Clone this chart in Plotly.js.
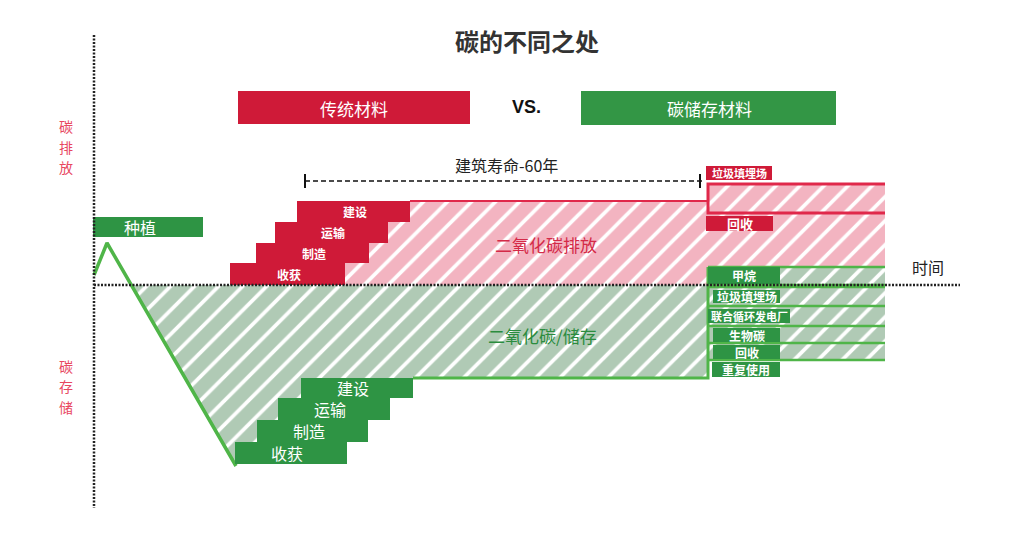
<!DOCTYPE html>
<html><head><meta charset="utf-8">
<script src="https://cdn.plot.ly/plotly-3.0.1.min.js"></script>
<style>html,body{margin:0;padding:0;background:#fff}#chart{width:1013px;height:534px}</style>
</head><body><div id="chart"></div>
<script>
// ---------------- DATA (chart units: x = time, y = carbon; + emitted, - stored) ----------------
const stages = ['收获', '制造', '运输', '建设'];
// Traditional material: emission stairs
const emitStart = [136, 162, 181, 203];
const emitEnd   = [251, 275, 294, 316];
const emitLevel = [0, 22, 42, 63, 84];
// Carbon-storage material: storage stairs
const storeStart = [141, 163, 184, 207];
const storeEnd   = [253, 274, 296, 319];
const storeLevel = [-179, -157, -135, -113, -93];
// Growth / planting curve
const growX = [0, 13, 142];
const growY = [10, 42, -181];
const plantLabel = '种植';
// Building life span
const lifeStart = 211, lifeEnd = 608;
const lifeLabel = '建筑寿命-60年';
// End of life
const eolTime = 614, horizon = 791;
const emitEolLabels = ['垃圾填埋场', '回收'];
const emitEolLevels = [101, 72];            // landfill top, recycle split
const storeEolLabels = ['甲烷', '垃圾填埋场', '联合循环发电厂', '生物碳', '回收', '重复使用'];
const storeEolTop    = [18, -2, -22, -42, -59, -77];
const storeEolBottom = [0, -21, -41, -58, -75, -93];
const titleText = '碳的不同之处';
const headers = ['传统材料', 'VS.', '碳储存材料'];
const axisLabels = ['碳排放', '碳存储', '时间'];
const areaLabels = ['二氧化碳排放', '二氧化碳/储存'];

// ---------------- STYLE ----------------
const RED = '#cf1a38', RED_LINE = '#e0284a', PINK = '#f3b4c1';
const GREEN = '#2e9444', GREEN_LINE = '#4fb548', GREEN_HATCH = '#b0cab5';
const CJK = '"Noto Sans CJK SC", "Noto Sans", sans-serif';
const X = px => px / 1013, Y = py => 1 - py / 534;

const traces = [];
const shapes = [];
const annotations = [];
function ann(o) { annotations.push(Object.assign({showarrow: false, xanchor: 'center', yanchor: 'middle'}, o)); }

// Pink emission hatched area
const pinkX = [emitEnd[0]], pinkY = [emitLevel[0]];
for (let i = 0; i < stages.length; i++) {
  pinkX.push(emitEnd[i], emitEnd[i]); pinkY.push(emitLevel[i], emitLevel[i + 1]);
}
pinkX.push(eolTime, eolTime, horizon, horizon);
pinkY.push(emitLevel[4], emitEolLevels[0], emitEolLevels[0], 0);
traces.push({x: pinkX, y: pinkY, type: 'scatter', mode: 'lines', fill: 'toself',
  line: {width: 0, color: 'rgba(0,0,0,0)'}, fillcolor: PINK,
  fillpattern: {shape: '/', bgcolor: PINK, fgcolor: '#ffffff', size: 17, solidity: 0.22},
  hoverinfo: 'skip'});

// Green storage hatched area
const slope = (growY[2] - growY[1]) / (growX[2] - growX[1]);
const x0 = growX[1] + (0 - growY[1]) / slope;
const gX = [x0, eolTime, eolTime], gY = [0, 0, storeLevel[4]];
for (let i = stages.length - 1; i >= 0; i--) {
  gX.push(storeStart[i], storeStart[i]); gY.push(storeLevel[i + 1], storeLevel[i]);
}
gX.push(growX[2]); gY.push(growY[2]);
traces.push({x: gX, y: gY, type: 'scatter', mode: 'lines', fill: 'toself',
  line: {width: 0, color: 'rgba(0,0,0,0)'}, fillcolor: GREEN_HATCH,
  fillpattern: {shape: '/', bgcolor: GREEN_HATCH, fgcolor: '#ffffff', size: 17, solidity: 0.22},
  hoverinfo: 'skip'});

// End-of-life storage strips (hatched)
for (let i = 0; i < storeEolLabels.length - 1; i++) {
  traces.push({x: [eolTime, horizon, horizon, eolTime], y: [storeEolTop[i], storeEolTop[i], storeEolBottom[i], storeEolBottom[i]],
    type: 'scatter', mode: 'lines', fill: 'toself', line: {width: 0, color: 'rgba(0,0,0,0)'}, fillcolor: GREEN_HATCH,
    fillpattern: {shape: '/', bgcolor: GREEN_HATCH, fgcolor: '#ffffff', size: 17, solidity: 0.22}, hoverinfo: 'skip'});
}

// Emission outline lines
traces.push({x: [emitEnd[3], eolTime], y: [emitLevel[4], emitLevel[4]], type: 'scatter', mode: 'lines',
  line: {color: RED_LINE, width: 2}, hoverinfo: 'skip'});
traces.push({x: [horizon, eolTime, eolTime, horizon], y: [emitEolLevels[0], emitEolLevels[0], emitEolLevels[1], emitEolLevels[1]],
  type: 'scatter', mode: 'lines', line: {color: RED_LINE, width: 3}, hoverinfo: 'skip'});

// Growth line and storage outline
traces.push({x: growX, y: growY, type: 'scatter', mode: 'lines', line: {color: GREEN_LINE, width: 3.5}, hoverinfo: 'skip'});
traces.push({x: [storeEnd[3], eolTime, eolTime], y: [storeLevel[4], storeLevel[4], storeEolTop[0]], type: 'scatter', mode: 'lines',
  line: {color: GREEN_LINE, width: 3}, hoverinfo: 'skip'});
const stripLines = [storeEolTop[0]].concat(storeEolBottom.slice(0, 5)).concat([storeEolTop[1]]);
stripLines.forEach(v => traces.push({x: [eolTime, horizon], y: [v, v], type: 'scatter', mode: 'lines',
  line: {color: GREEN_LINE, width: 2.5}, hoverinfo: 'skip'}));

// Stair blocks
for (let i = 0; i < stages.length; i++) {
  shapes.push({type: 'rect', x0: emitStart[i], x1: emitEnd[i], y0: emitLevel[i], y1: emitLevel[i + 1],
    fillcolor: RED, line: {width: 0}});
  ann({x: (emitStart[i] + emitEnd[i]) / 2 + 1, y: (emitLevel[i] + emitLevel[i + 1]) / 2, text: '<b>' + stages[i] + '</b>',
    font: {family: CJK, size: 12, color: '#fff'}});
  shapes.push({type: 'rect', x0: storeStart[i], x1: storeEnd[i], y0: storeLevel[i], y1: storeLevel[i + 1],
    fillcolor: GREEN, line: {width: 0}});
  ann({x: (storeStart[i] + storeEnd[i]) / 2 - 4, y: (storeLevel[i] + storeLevel[i + 1]) / 2, text: stages[i],
    font: {family: CJK, size: 16, color: '#fff'}});
}

// Planting label box
shapes.push({type: 'rect', x0: -1, x1: 109, y0: 48, y1: 68, fillcolor: GREEN, line: {width: 0}});
ann({x: 46, y: 58, text: plantLabel, font: {family: CJK, size: 16, color: '#fff'}});

// Emission end-of-life label boxes
const emitBox = [[612, 678, 105, 119], [612, 679, 54, 69]];
emitEolLabels.forEach((t, i) => {
  const b = emitBox[i];
  shapes.push({type: 'rect', x0: b[0], x1: b[1], y0: b[2], y1: b[3], fillcolor: RED, line: {width: 0}});
  ann({x: (b[0] + b[1]) / 2, y: (b[2] + b[3]) / 2, text: '<b>' + t + '</b>',
    font: {family: CJK, size: i === 0 ? 11 : 13, color: '#fff'}});
});

// Storage end-of-life label boxes
const storeBox = [[614, 686], [619, 686], [614, 696], [619, 686], [619, 686], [618, 686]];
const storeBoxY = [[1, 18], [-18, -5], [-38, -24], [-57, -43], [-74, -60], [-92, -77]];
storeEolLabels.forEach((t, i) => {
  const b = storeBox[i], by = storeBoxY[i];
  shapes.push({type: 'rect', x0: b[0], x1: b[1], y0: by[0], y1: by[1], fillcolor: GREEN, line: {width: 0}});
  ann({x: (b[0] + b[1]) / 2, y: (by[0] + by[1]) / 2, text: '<b>' + t + '</b>',
    font: {family: CJK, size: i === 2 ? 11 : 12, color: '#fff'}});
});

// Axes (dotted)
shapes.push({type: 'line', x0: 0, x1: 0, y0: 250, y1: -223, line: {color: '#222', width: 2.5, dash: '2px,1.5px'}});
shapes.push({type: 'line', x0: 0, x1: 866, y0: 0, y1: 0, line: {color: '#222', width: 2.5, dash: '2px,1.5px'}});

// Building life span
shapes.push({type: 'line', x0: lifeStart, x1: lifeEnd, y0: 104, y1: 104, line: {color: '#111', width: 1.5, dash: '5px,3px'}});
shapes.push({type: 'line', x0: lifeStart, x1: lifeStart, y0: 97, y1: 111, line: {color: '#111', width: 2}});
shapes.push({type: 'line', x0: lifeEnd - 2, x1: lifeEnd - 2, y0: 97, y1: 111, line: {color: '#111', width: 2}});
ann({x: (lifeStart + lifeEnd) / 2 + 3, y: 120, text: lifeLabel, font: {family: CJK, size: 16, color: '#222'}});

// Area labels
ann({x: 452, y: 41, text: areaLabels[0], font: {family: CJK, size: 17, color: '#d42a48'}});
ann({x: 448, y: -50, text: areaLabels[1], font: {family: CJK, size: 17, color: '#2b8c3e'}});

// Axis labels (vertical, one character per line)
const vMid = [147, 386];
[axisLabels[0], axisLabels[1]].forEach((lab, k) => {
  lab.split('').forEach((ch, j) => {
    ann({xref: 'paper', yref: 'paper', x: X(66), y: Y(vMid[k] + (j - 1) * 20.5), text: ch,
      font: {family: CJK, size: 14, color: '#e8475f'}});
  });
});
ann({xref: 'paper', yref: 'paper', x: X(928), y: Y(267), text: axisLabels[2],
  font: {family: CJK, size: 16, color: '#222'}});

// Header
shapes.push({type: 'rect', xref: 'paper', yref: 'paper', x0: X(238), x1: X(470), y0: Y(124), y1: Y(91), fillcolor: RED, line: {width: 0}});
shapes.push({type: 'rect', xref: 'paper', yref: 'paper', x0: X(581), x1: X(836), y0: Y(125), y1: Y(91), fillcolor: '#339645', line: {width: 0}});
ann({xref: 'paper', yref: 'paper', x: X(354), y: Y(108), text: headers[0], font: {family: CJK, size: 17, color: '#fff'}});
ann({xref: 'paper', yref: 'paper', x: X(526), y: Y(107), text: '<b>' + headers[1] + '</b>', font: {family: '"Liberation Sans", Arial, sans-serif', size: 18, color: '#111'}});
ann({xref: 'paper', yref: 'paper', x: X(709), y: Y(108), text: headers[2], font: {family: CJK, size: 17, color: '#fff'}});

const layout = {
  width: 1013, height: 534, margin: {l: 0, r: 0, t: 0, b: 0},
  paper_bgcolor: '#fff', plot_bgcolor: '#fff', showlegend: false,
  title: {text: '<b>' + titleText + '</b>', x: 527 / 1013, xanchor: 'center', y: 1 - 43 / 534, yanchor: 'middle',
    font: {family: CJK, size: 24, color: '#333'}},
  xaxis: {range: [-94, 919], visible: false, fixedrange: true},
  yaxis: {range: [-249, 285], visible: false, fixedrange: true},
  shapes: shapes, annotations: annotations
};
Plotly.newPlot('chart', traces, layout, {displayModeBar: false, staticPlot: true});
</script></body></html>
